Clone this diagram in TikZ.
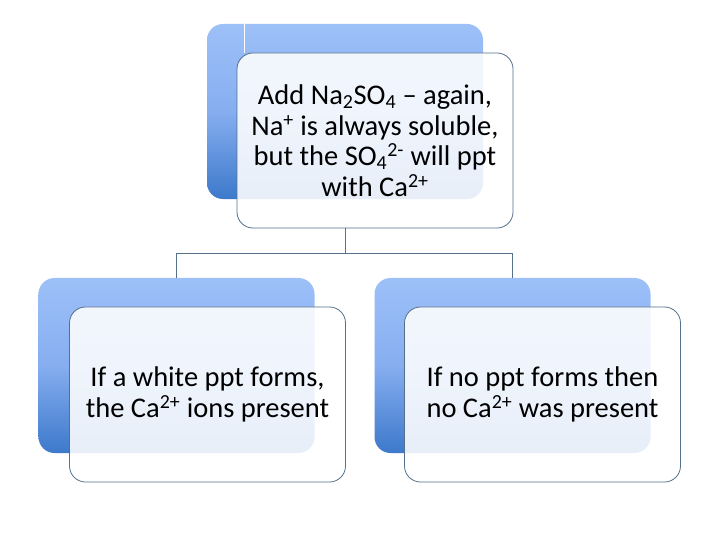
\documentclass[tikz,border=0pt]{standalone}
\usepackage{fontspec}
\setmainfont{Carlito}
\definecolor{backtop}{HTML}{9DC0F8}
\definecolor{backmid}{HTML}{86AEF0}
\definecolor{backbot}{HTML}{3D79CB}
\definecolor{edge}{HTML}{55708A}
\tikzset{
  backbox/.style={rounded corners=16bp, minimum width=276bp, minimum height=175bp,
    top color=backtop, bottom color=backbot, middle color=backmid, draw=none, inner sep=0pt},
  frontbox/.style={rounded corners=16bp, minimum width=276bp, minimum height=175bp,
    fill=white, fill opacity=0.88, text opacity=1, draw=edge, line width=0.8bp,
    align=center, inner sep=0pt, font=\fontsize{28.5bp}{30.5bp}\selectfont},
  conn/.style={draw=edge, line width=0.9bp},
}
\begin{document}
\begin{tikzpicture}[x=1bp,y=-1bp]
\useasboundingbox (0,0) rectangle (720,540);
% back boxes
\node[backbox] (topback) at (345,111.5) {};
\node[backbox] (leftback) at (176.5,365.5) {};
\node[backbox] (rightback) at (512.5,365.5) {};
\coordinate (wl) at (244,0);
\coordinate (bus) at (0,253.5);
% connectors
\draw[conn] (leftback.north) -- (leftback.north |- bus) -- (rightback.north |- bus) -- (rightback.north);
% front boxes
\node[frontbox] (top) at (375,140.5) {Add Na\textsubscript{2}SO\textsubscript{4} – again,\\Na\textsuperscript{+} is always soluble,\\but the SO\textsubscript{4}\textsuperscript{2-} will ppt\\with Ca\textsuperscript{2+}};
\node[frontbox] (left) at (207.5,394.5) {If a white ppt forms,\\the Ca\textsuperscript{2+} ions present};
\node[frontbox] (right) at (542.5,394.5) {If no ppt forms then\\no Ca\textsuperscript{2+} was present};
\draw[white, line width=1bp] (topback.north -| wl) -- (top.north -| wl);
\draw[conn] (topback.south |- top.south) -- (topback.south |- bus);
\end{tikzpicture}
\end{document}
